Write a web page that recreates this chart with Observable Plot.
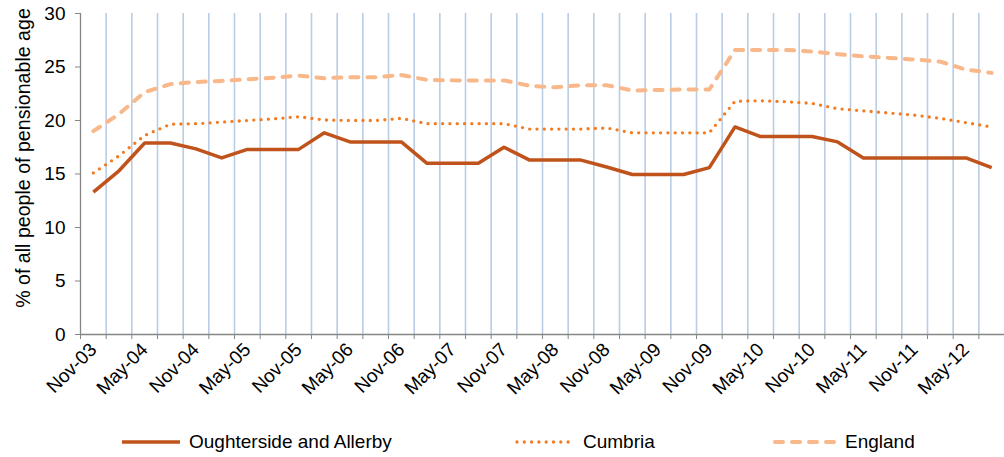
<!DOCTYPE html>
<html>
<head>
<meta charset="utf-8">
<script src="https://cdn.jsdelivr.net/npm/d3@7"></script>
<script src="https://cdn.jsdelivr.net/npm/@observablehq/plot@0.6"></script>
<style>
  body { margin: 0; background: #fff; font-family: "Liberation Sans", Arial, sans-serif; color: #000; }
  #legend { position: relative; width: 1004px; height: 37px; font-size: 19px; }
  #legend .item { position: absolute; top: 7px; height: 30px; display: flex; align-items: center; }
  #legend svg { display: block; margin-right: 7px; }
</style>
</head>
<body>
<div id="chart"></div>
<div id="legend"></div>
<script>
const quarters = ["Nov-03","Feb-04","May-04","Aug-04","Nov-04","Feb-05","May-05","Aug-05","Nov-05","Feb-06","May-06","Aug-06",
  "Nov-06","Feb-07","May-07","Aug-07","Nov-07","Feb-08","May-08","Aug-08","Nov-08","Feb-09","May-09","Aug-09",
  "Nov-09","Feb-10","May-10","Aug-10","Nov-10","Feb-11","May-11","Aug-11","Nov-11","Feb-12","May-12","Aug-12"];
const oughterside = [13.3,15.3,17.9,17.9,17.35,16.5,17.3,17.3,17.3,18.85,18.0,18.0,
  18.0,16.0,16.0,16.0,17.5,16.3,16.3,16.3,15.65,14.95,14.95,14.95,
  15.6,19.4,18.5,18.5,18.5,18.0,16.5,16.5,16.5,16.5,16.5,15.6];
const cumbria = [15.1,16.7,18.6,19.65,19.7,19.85,20.0,20.15,20.35,20.05,20.0,20.0,
  20.2,19.7,19.7,19.7,19.7,19.2,19.2,19.2,19.3,18.85,18.85,18.85,
  18.85,21.8,21.85,21.75,21.6,21.1,20.9,20.7,20.5,20.2,19.8,19.4];
const england = [19.0,20.6,22.65,23.4,23.6,23.7,23.85,24.0,24.2,23.95,24.05,24.05,
  24.25,23.8,23.75,23.75,23.75,23.25,23.1,23.3,23.3,22.8,22.85,22.9,
  22.9,26.6,26.6,26.6,26.45,26.2,26.0,25.85,25.7,25.5,24.75,24.45];
const yTicks = [0,5,10,15,20,25,30];
const yTitle = "% of all people of pensionable age";
const seriesNames = ["Oughterside and Allerby","Cumbria","England"];
const colors = ["#C0531B","#F47B20","#F9B88A"];

const idx = quarters.map((q, i) => i);
const boundaries = quarters.slice(1).map((q, i) => i + 0.5);
const tickBoundaries = quarters.slice(1).map((q, i) => i - 0.5).concat([quarters.length - 1.5]);
const labelIdx = idx.filter(i => i % 2 === 0);
const axisGray = "#868686";

const styles = [
  {strokeWidth: 3.5, strokeDasharray: null, strokeLinecap: "butt"},
  {strokeWidth: 3.3, strokeDasharray: "0,7.3", strokeLinecap: "round"},
  {strokeWidth: 4, strokeDasharray: "8,9", strokeLinecap: "round"}
];
const seriesData = [oughterside, cumbria, england];

const chart = Plot.plot({
  width: 1004,
  height: 420,
  marginLeft: 80,
  marginRight: 0,
  marginTop: 13,
  marginBottom: 86,
  style: {fontFamily: "'Liberation Sans', Arial, sans-serif", fontSize: "19px", color: "#000", background: "#fff"},
  x: {domain: [-0.5, quarters.length - 0.5]},
  y: {domain: [0, 30]},
  marks: [
    Plot.ruleX(boundaries, {y1: 0, y2: 30, stroke: "#B9CDE5", strokeWidth: 1.6}),
    Plot.ruleY([0], {stroke: axisGray, strokeWidth: 1.3}),
    Plot.ruleX([-0.5], {y1: 0, y2: 30, stroke: axisGray, strokeWidth: 1.3}),
    Plot.axisY(yTicks, {
      tickSize: 5, tickPadding: 10, stroke: axisGray, fontSize: 19, label: null
    }),
    Plot.text([yTitle], {
      text: d => d, frameAnchor: "left", rotate: -90, dx: -57, dy: -16,
      fontSize: 19.6, textAnchor: "middle", fill: "#000"
    }),
    Plot.axisX(tickBoundaries, {tickSize: 5, text: null, stroke: axisGray, label: null}),
    Plot.axisX(labelIdx, {
      tickSize: 0, tickPadding: 12, tickRotate: -45, fontSize: 19,
      tickFormat: i => quarters[i], label: null
    }),
    ...seriesData.map((vals, s) => Plot.lineY(vals, {
      x: (d, i) => i, y: d => d, stroke: colors[s],
      strokeWidth: styles[s].strokeWidth,
      strokeDasharray: styles[s].strokeDasharray,
      strokeLinecap: styles[s].strokeLinecap,
      strokeLinejoin: "round"
    }))
  ]
});
document.getElementById("chart").appendChild(chart);

// Legend
const legendPos = [{left: 120, w: 62}, {left: 515, w: 61}, {left: 773, w: 65}];
const legend = document.getElementById("legend");
seriesNames.forEach((name, s) => {
  const item = document.createElement("div");
  item.className = "item";
  item.style.left = legendPos[s].left + "px";
  const w = legendPos[s].w;
  const dash = styles[s].strokeDasharray ? `stroke-dasharray="${styles[s].strokeDasharray}"` : "";
  item.innerHTML = `<svg width="${w}" height="8"><line x1="2" x2="${w - 2}" y1="4" y2="4" stroke="${colors[s]}" stroke-width="${styles[s].strokeWidth}" stroke-linecap="${styles[s].strokeLinecap}" ${dash}/></svg><span>${name}</span>`;
  legend.appendChild(item);
});
</script>
</body>
</html>
